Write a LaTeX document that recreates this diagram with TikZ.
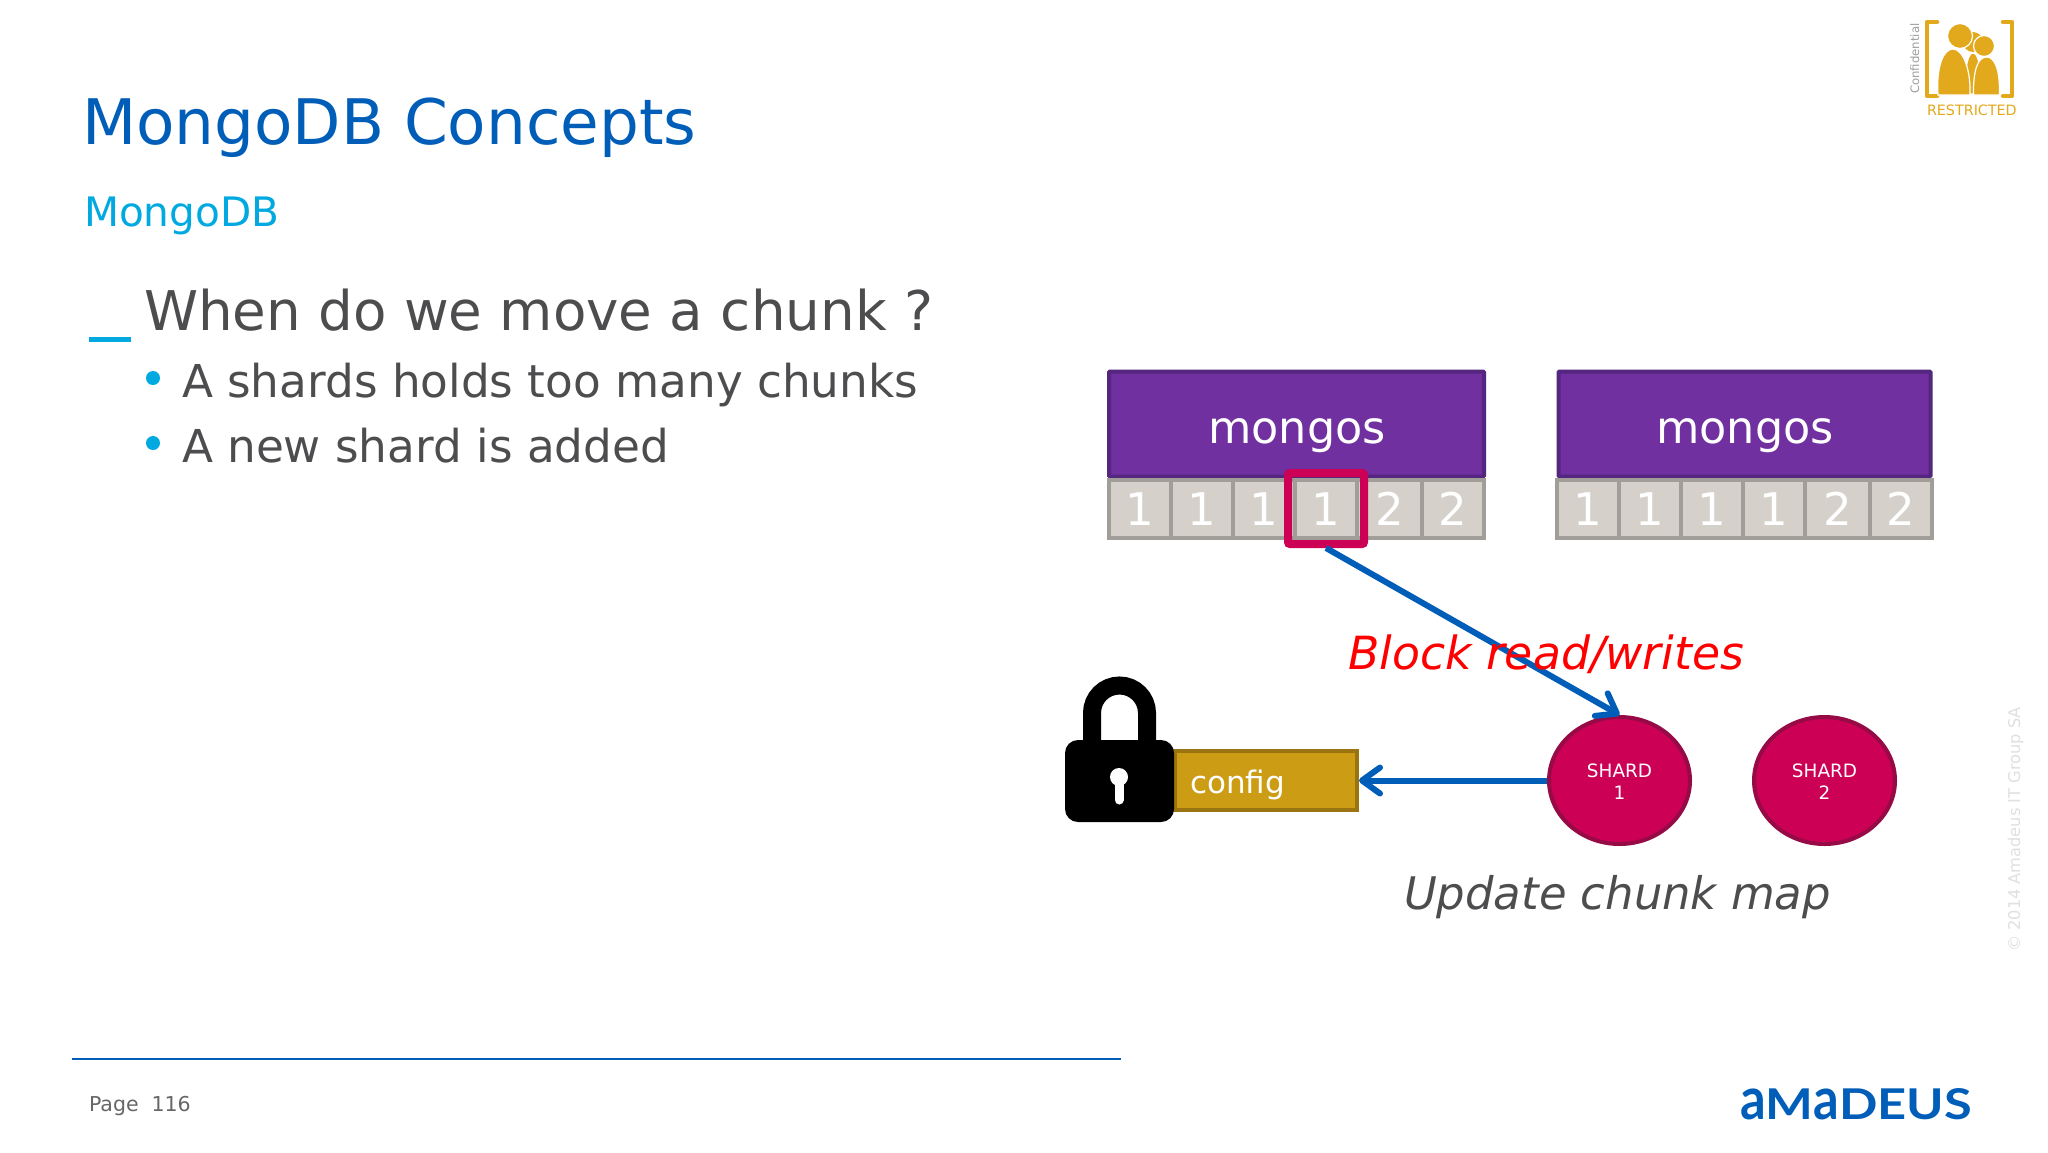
\documentclass[tikz,border=0pt]{standalone}
\usepackage{fontspec}
\setmainfont{DejaVu Sans}
\newfontfamily\logofont{Lato}
\usetikzlibrary{arrows.meta,shapes.geometric}
\definecolor{titleblue}{HTML}{005EB8}
\definecolor{skyblue}{HTML}{00A9E0}
\definecolor{bodygrey}{HTML}{4D4D4F}
\definecolor{mongofill}{HTML}{7030A0}
\definecolor{mongoedge}{HTML}{552680}
\definecolor{chunkfill}{HTML}{D5D0CA}
\definecolor{chunkedge}{HTML}{A19D99}
\definecolor{crimson}{HTML}{CC0055}
\definecolor{crimsonedge}{HTML}{960A46}
\definecolor{cfgfill}{HTML}{CC9C14}
\definecolor{cfgedge}{HTML}{9A7410}
\definecolor{gold}{HTML}{E3A91C}
\newcommand{\fsz}[1]{\fontsize{#1}{#1}\selectfont}
\tikzset{
 txt/.style={anchor=base west,inner sep=0pt,outer sep=0pt},
 ctr/.style={anchor=base,inner sep=0pt,outer sep=0pt},
 mongobox/.style={draw=mongoedge,fill=mongofill,line width=4pt,inner sep=0pt,outer sep=0pt,minimum width=375pt,minimum height=105pt,rounded corners=1pt},
 chunkbox/.style={draw=chunkedge,fill=chunkfill,line width=4pt,inner sep=0pt,outer sep=0pt,minimum height=58pt,text=white,font=\fsz{45}},
 hilite/.style={draw=crimson,line width=8pt,inner sep=0pt,outer sep=4pt,minimum width=76pt,minimum height=71pt,rounded corners=2pt},
 shardnode/.style={ellipse,draw=crimsonedge,fill=crimson,line width=4pt,inner sep=0pt,outer sep=2pt,minimum width=141pt,minimum height=127pt},
 shardtext/.style={ctr,text=white,font=\fsz{18.4}},
 cfgnode/.style={draw=cfgedge,fill=cfgfill,line width=4pt,inner sep=0pt,outer sep=2pt,minimum width=182pt,minimum height=59pt},
 link/.style={draw=titleblue,line width=6pt,-{Straight Barb[length=18pt,width=26pt,line width=6pt,round]}},
 personshape/.style={fill=gold,draw=white,line width=1.2pt},
}
\begin{document}
\begin{tikzpicture}[x=1pt,y=-1pt]
\useasboundingbox[fill=white] (0,0) rectangle (2048,1152);
% titles
\node[txt,text=titleblue,font=\fsz{62.8}] (title) at (82,144) {MongoDB Concepts};
\node[txt,text=skyblue,font=\fsz{40.6}] (sub) at (84,226) {MongoDB};
\node[txt,text=bodygrey,font=\fsz{54.7}] (q) at (144,330) {When do we move a chunk ?};
\node[txt,text=bodygrey,font=\fsz{45.3}] (b1) at (182,397) {A shards holds too many chunks};
\node[txt,text=bodygrey,font=\fsz{45.3}] (b2) at (182,462) {A new shard is added};
\fill[skyblue] (89,337) rectangle (131,341.5);
\fill[skyblue] (153,378) circle (7);
\fill[skyblue] (153,443) circle (7);
% mongos 1
\node[mongobox] (m1) at (1296.5,424) {};
\node[ctr,text=white,font=\fsz{44.5}] (m1t) at (1297,443) {mongos};
\node[chunkbox,minimum width=62pt] (a1) at (1140,509) {1};
\node[chunkbox,minimum width=62pt] (a2) at (1202,509) {1};
\node[chunkbox,minimum width=62pt] (a3) at (1264,509) {1};
\node[chunkbox,minimum width=62pt] (a4) at (1326,509) {1};
\node[chunkbox,minimum width=65pt] (a5) at (1389.5,509) {2};
\node[chunkbox,minimum width=62pt] (a6) at (1453,509) {2};
\node[hilite] (hl) at (1326,508.5) {};
% mongos 2
\node[mongobox,minimum width=372pt] (m2) at (1744.5,424) {};
\node[ctr,text=white,font=\fsz{44.5}] (m2t) at (1745,443) {mongos};
\node[chunkbox,minimum width=62pt] (d1) at (1588,509) {1};
\node[chunkbox,minimum width=62pt] (d2) at (1650,509) {1};
\node[chunkbox,minimum width=62pt] (d3) at (1712,509) {1};
\node[chunkbox,minimum width=62pt] (d4) at (1774,509) {1};
\node[chunkbox,minimum width=65pt] (d5) at (1837.5,509) {2};
\node[chunkbox,minimum width=62pt] (d6) at (1901,509) {2};
% shards and config
\node[shardnode] (s1) at (1619.5,780.5) {};
\node[shardtext] (s1a) at (1619.5,777) {SHARD};
\node[shardtext] (s1b) at (1619.5,799) {1};
\node[shardnode] (s2) at (1824.5,780.5) {};
\node[shardtext] (s2a) at (1824.5,777) {SHARD};
\node[shardtext] (s2b) at (1824.5,799) {2};
\node[cfgnode] (cfg) at (1266,780.5) {};
\node[txt,text=white,font=\fsz{31}] (cfgt) at (1190,793) {config};
% lock
\draw[black,line width=18pt] (1092,748) -- (1092,713) arc[start angle=180,end angle=360,radius=27.5] -- (1147,748);
\fill[black,rounded corners=13pt] (1065,740) rectangle (1174,822);
\fill[white] (1119,777) circle (9);
\draw[white,line width=9pt,line cap=round] (1119,780) -- (1119,800);
% connectors
\draw[link] (hl.south) -- (s1.north);
\draw[link] (s1.west) -- (cfg.east);
% labels
\node[txt,text=red,font=\fsz{45.7}\itshape] (blk) at (1348,669) {Block read/writes};
\node[txt,text=bodygrey,font=\fsz{44.9}\itshape] (upd) at (1404,909) {Update chunk map};
% footer
\draw[titleblue,line width=2.5pt] (72,1059) -- (1121,1059);
\node[txt,text=black!60,font=\fsz{20.5}] (pg) at (89,1111) {Page\ \ 116};
\node[anchor=base west,inner sep=0pt,text=titleblue,font=\logofont\bfseries] (logo) at (1740,1119) {\resizebox{232pt}{31pt}{\scalebox{1}[1.38]{a}M\scalebox{1}[1.38]{a}DEUS}};
% copyright
\node[anchor=base west,inner sep=0pt,rotate=90,text=black!12,font=\fsz{16.2}] (copy) at (2020,952) {© 2014 Amadeus IT Group SA};
% restricted badge
\node[anchor=base west,inner sep=0pt,rotate=90,text=black!38,font=\fsz{11.7}] (conf) at (1919,94) {Confidential};
\node[txt,text=gold,font=\fsz{14.3}] (res) at (1927,115) {RESTRICTED};
\draw[gold,line width=4.5pt,line cap=round,line join=round] (1937,22) -- (1927,22) -- (1927,96) -- (1937,96);
\draw[gold,line width=4.5pt,line cap=round,line join=round] (2003,22) -- (2012,22) -- (2012,96) -- (2003,96);
\fill[gold] (1973,42) circle (10);
\filldraw[personshape] (1965,94) .. controls (1965,65) and (1968,53) .. (1973,53) .. controls (1978,53) and (1981,65) .. (1981,94) -- cycle;
\filldraw[personshape] (1973.5,95) .. controls (1973,70) and (1978,57) .. (1986.5,57) .. controls (1995,57) and (2000,70) .. (1999.5,95) -- cycle;
\filldraw[personshape] (1938,95) .. controls (1936,65) and (1944,49) .. (1953,49) .. controls (1963,49) and (1971,70) .. (1970,95) -- cycle;
\filldraw[personshape] (1984,46) circle (10.5);
\filldraw[personshape] (1960,36) circle (12.5);
\end{tikzpicture}
\end{document}
